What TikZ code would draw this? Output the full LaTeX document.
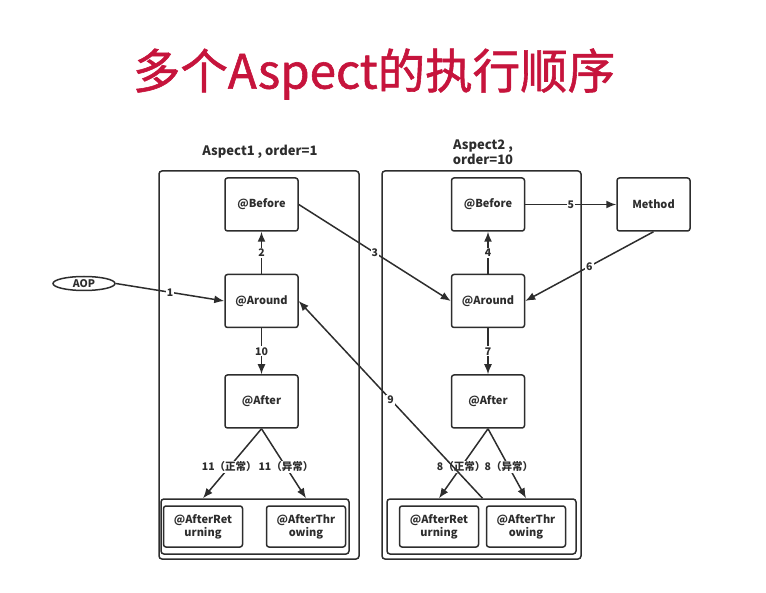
\documentclass[tikz,border=0pt]{standalone}
\usepackage{fontspec}
\setmainfont{Noto Sans CJK SC}
\newfontfamily\titlefont{Noto Sans CJK SC}[FakeBold=1.2]
\usetikzlibrary{positioning,arrows.meta,shapes.geometric,calc}
\definecolor{titlered}{RGB}{198,20,60}
\definecolor{linegray}{RGB}{45,45,45}

\begin{document}
\begin{tikzpicture}[x=1pt,y=-1pt,on grid,
	box/.style={draw=linegray,line width=1.5pt,rounded corners=2.5pt,minimum width=73pt,minimum height=53pt,text=linegray,font=\bfseries\fontsize{11}{13}\selectfont},
	advice/.style={box,minimum width=79pt,minimum height=41pt,align=center,inner sep=1pt},
	aspect/.style={draw=linegray,line width=1.5pt,rounded corners=3pt},
	num/.style={fill=white,inner sep=1pt,text=linegray,font=\bfseries\fontsize{10.5}{12}\selectfont},
	conn/.style={-{Latex[length=10pt,width=8pt]},draw=linegray,line width=1.5pt}]
	\useasboundingbox (0,0) rectangle (766,593);
	\node[text=titlered,font=\titlefont\fontsize{47.5}{54}\selectfont] (title) at (374,74) {多个Aspect的执行顺序};
	% the two aspects
	\node[aspect,minimum width=200pt,minimum height=388pt] (asp1) at (259,365) {};
	\node[aspect,minimum width=199pt,minimum height=388pt] (asp2) at (481.5,365) {};
	\node[aspect,minimum width=188pt,minimum height=55pt] (linner) at (255,526.5) {};
	\node[aspect,minimum width=189pt,minimum height=55pt] (rinner) at (481.5,526.5) {};
	\node[text=linegray,font=\bfseries\fontsize{13}{15}\selectfont] (asp1lbl) at (260,152) {Aspect1 , order=1};
	\node[text=linegray,font=\bfseries\fontsize{13}{15}\selectfont,align=center] (asp2lbl) at (483,152.5) {Aspect2 ,\\order=10};
	% aspect 1
	\node[box] (lbefore) at (261.5,204.5) {@Before};
	\node[box] (laround) [below=96.5pt of lbefore] {@Around};
	\node[box] (lafter) [below=100.5pt of laround] {@After};
	\node[advice] (lret) at (203,526.5) {@AfterRet\\urning};
	\node[advice] (lthr) at (306,526.5) {@AfterThr\\owing};
	% aspect 2
	\node[box] (rbefore) [right=226.5pt of lbefore] {@Before};
	\node[box] (raround) [below=96.5pt of rbefore] {@Around};
	\node[box] (rafter) [below=100.5pt of raround] {@After};
	\node[advice] (rret) at (439,526.5) {@AfterRet\\urning};
	\node[advice] (rthr) at (526,526.5) {@AfterThr\\owing};
	\node[box] (method) [right=165.5pt of rbefore] {Method};
	\node[ellipse,draw=linegray,line width=1.5pt,minimum width=62pt,minimum height=14pt,inner sep=0pt,text=linegray,font=\bfseries\fontsize{10.5}{12}\selectfont] (aop) at (84,283.5) {AOP};
	\coordinate (mid) at ($(rret.east)!0.5!(rthr.west)$);
	\coordinate (nine) at (mid |- rinner.north);

	\draw[conn] (aop.east) -- node[num] {1} (laround.west);
	\draw[conn] (laround) -- node[num] {2} (lbefore);
	\draw[conn] (lbefore.east) -- node[num] {3} (raround.west);
	\draw[conn] (raround) -- node[num] {4} (rbefore);
	\draw[conn] (rbefore) -- node[num] {5} (method);
	\draw[conn] (method.south) -- node[num] {6} (raround.east);
	\draw[conn] (raround) -- node[num] {7} (rafter);
	\draw[conn] (rafter.south) -- node[num,pos=0.55] {8（正常）} (rret |- rinner.north);
	\draw[conn] (rafter.south) -- node[num,pos=0.55] {8（异常）} (rthr |- rinner.north);
	\draw[conn] (nine) -- node[num] {9} (laround.east);
	\draw[conn] (laround) -- node[num] {10} (lafter);
	\draw[conn] (lafter.south) -- node[num,pos=0.55] {11（正常）} (lret |- linner.north);
	\draw[conn] (lafter.south) -- node[num,pos=0.55] {11（异常）} (lthr |- linner.north);
\end{tikzpicture}
\end{document}
